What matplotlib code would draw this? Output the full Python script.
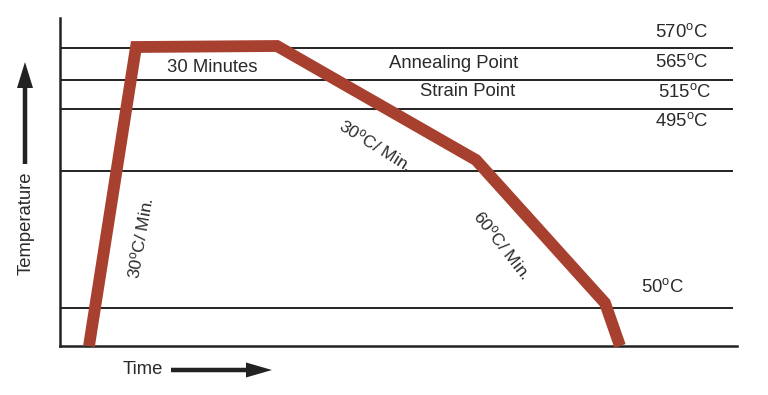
import matplotlib
matplotlib.use("Agg")
import matplotlib.pyplot as plt
from matplotlib.patches import FancyArrow
from matplotlib.transforms import IdentityTransform

plt.rcParams['font.family'] = ['Liberation Sans', 'DejaVu Sans']
plt.rcParams['mathtext.fontset'] = 'custom'
plt.rcParams['mathtext.rm'] = 'Liberation Sans'
plt.rcParams['mathtext.it'] = 'Liberation Sans:italic'

# Schematic annealing curve (arbitrary time / temperature units)
time = [29, 76, 217, 416, 545, 560]
temperature = [0, 299, 300, 186, 43, 0]

# Reference level lines
levels = [298, 266, 237, 175, 38]
level_labels = ["570$^{\\rm o}$C", "565$^{\\rm o}$C", "515$^{\\rm o}$C",
                "495$^{\\rm o}$C", "50$^{\\rm o}$C"]
level_label_y = [314, 284, 254, 225, 59]
level_label_x = [622, 622, 625, 622, 603]

W, H = 768, 395
fig = plt.figure(figsize=(W / 100, H / 100), dpi=100)
ax = fig.add_axes([60 / W, (H - 346) / H, 677 / W, 328 / H])
ax.set_xlim(0, 677)
ax.set_ylim(0, 328)

line_col = '#222222'
for lv in levels:
    ax.plot([0, 673], [lv, lv], color=line_col, lw=1.4, solid_capstyle='butt', zorder=1)

ax.plot(time, temperature, color='#A8402F', lw=8.5, solid_joinstyle='miter',
        solid_capstyle='butt', zorder=3, clip_on=False)

for s in ['top', 'right']:
    ax.spines[s].set_visible(False)
for s in ['left', 'bottom']:
    ax.spines[s].set_linewidth(1.8)
    ax.spines[s].set_color(line_col)
ax.set_xticks([])
ax.set_yticks([])

fs = 13.3
fsr = 12.5
txt_col = '#2a2a2a'
for lab, x, y in zip(level_labels, level_label_x, level_label_y):
    ax.text(x, y, lab, fontsize=fs, color=txt_col, ha='center', va='center')

ax.text(152, 279, "30 Minutes", fontsize=fs, color=txt_col, ha='center', va='center')
ax.text(394, 283, "Annealing Point", fontsize=fs, color=txt_col, ha='center', va='center')
ax.text(408, 254, "Strain Point", fontsize=fs, color=txt_col, ha='center', va='center')

ax.text(81, 108, "30$^{\\rm o}$C/ Min.", fontsize=fsr, color=txt_col, ha='center', va='center',
        rotation=80, rotation_mode='anchor')
ax.text(315, 201, "30$^{\\rm o}$C/ Min.", fontsize=fsr, color=txt_col, ha='center', va='center',
        rotation=-32, rotation_mode='anchor')
ax.text(442, 101, "60$^{\\rm o}$C/ Min.", fontsize=fsr, color=txt_col, ha='center', va='center',
        rotation=-52, rotation_mode='anchor')

# Axis labels with arrows (display pixels, origin bottom-left)
fig.text(26 / W, (H - 223) / H, "Temperature", fontsize=fs, color=txt_col,
         rotation=90, ha='center', va='center')
fig.add_artist(FancyArrow(25, H - 164, 0, 102, width=4.5, head_width=16, head_length=26,
                          length_includes_head=True, color=line_col, lw=0,
                          transform=IdentityTransform()))
fig.text(143 / W, (H - 369) / H, "Time", fontsize=fs, color=txt_col,
         ha='center', va='center')
fig.add_artist(FancyArrow(171, H - 370, 101, 0, width=4.5, head_width=15, head_length=26,
                          length_includes_head=True, color=line_col, lw=0,
                          transform=IdentityTransform()))

fig.savefig('out.png', dpi=100)
